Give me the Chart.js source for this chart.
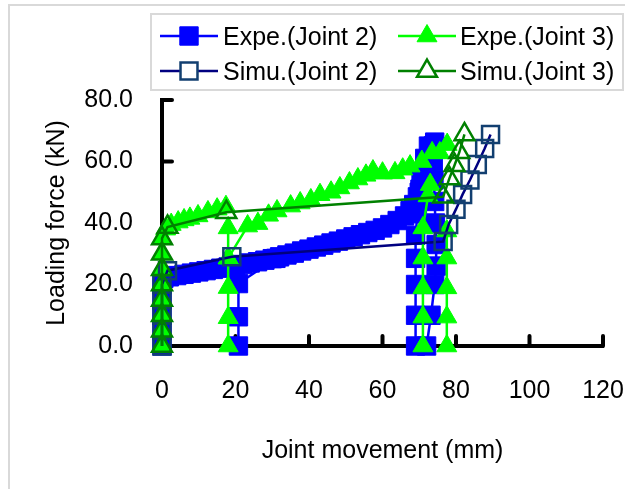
<!DOCTYPE html>
<html><head><meta charset="utf-8">
<script src="https://cdn.jsdelivr.net/npm/chart.js@4.4.0/dist/chart.umd.min.js"></script>
<style>
html,body{margin:0;padding:0;overflow:hidden;background:#fff;width:625px;height:489px;}
#frame{position:absolute;left:8px;top:4px;width:700px;height:600px;border-left:2px solid #d9d9d9;border-top:2px solid #d9d9d9;}
#wrap{position:absolute;left:0;top:0;width:625px;height:489px;}
#legend{position:absolute;left:150px;top:13px;width:474px;height:78px;border:2px solid #d9d9d9;box-sizing:border-box;background:#fff;}
.txt{position:absolute;font-family:'Liberation Sans',Arial,sans-serif;font-size:25px;line-height:30px;white-space:nowrap;color:#000;}
.sym{position:absolute;}
</style></head>
<body>
<div id="frame"></div>
<div id="wrap"><canvas id="c" width="625" height="489"></canvas></div>
<div id="legend"></div>
<script>
// ---- data (null separates line segments) ----
const xTicks = [0, 20, 40, 60, 80, 100, 120];
const yTicks = [0, 20, 40, 60, 80];

const expeJ2X = [0,0,0,0,0,0.5,2,4,6,8,10,12,14,16,18,20,22,24,26,28,30,32,34,36,38,40,42,44,46,48,50,52,54,56,58,60,62,64,66,67.5,68.5,69.5,70.2,70.8,71.3,71.8,72.3,72.8,73.3,73.8,74.2,
  null, 20.8,20.8,20.8,31,
  null, 69,69,69,69,69,69.5,70,70.5,71.5,72.5,
  null, 72,73.2,74.2,74.6,74.6,74.4,74.2,74,73.8,73.8];
const expeJ2Y = [0,5,10,15,20,22,22.5,22.9,23.3,23.7,24.1,24.5,24.9,25.3,25.7,26.1,26.5,27,27.4,27.9,28.4,29,29.6,30.2,30.9,31.5,32.2,32.8,33.5,34.1,34.8,35.5,36.2,36.9,37.6,38.4,39.5,40.8,42.3,44,46,48.5,51,53.5,56,58.2,60.2,62,63.5,65,66.3,
  null, 0,9.5,20.3,28.5,
  null, 0,10,20,28.5,36,43,50,56,61,65,
  null, 0,10,20,26,33,40,47,54,60,65];

const expeJ3X = [0,0,0,0,0,0,0,0,1,2.5,4.4,6,7.6,9.8,12.5,15,17.4,
  null, 18,18,18,18,18,
  null, 18,23.3,26.1,29,31.3,35,37.6,40.5,43,46,48.4,51,53.3,55.5,57.4,60,63.4,65.5,67.5,70.7,73.5,75.6,77.6,
  null, 71,71,71,71,71,72.4,73,
  null, 77.5,77.5,77.5,77.5,77.5];
const expeJ3Y = [0,5,10,15,20,25,30,35,38,39.5,40.3,41,41.5,42.3,43.6,44.5,45.3,
  null, 0,9.2,19,28.6,38.4,
  null, 28.6,39,39.8,42.5,43.9,45.5,46.5,47.5,49.2,50,51.4,53,54.3,55.5,56.9,56.2,56.3,57.5,58.5,60,62.8,62.8,65.5,
  null, 0,9.4,18.9,28.6,38.4,48.8,52.5,
  null, 0,9.4,18.9,28.6,37.4];

const simuJ2X = [0,0,0,0,0,1.5,19,76.5,78,80,81.8,83.8,85.8,87.8,89.4];
const simuJ2Y = [0,5,10,15,20,24.5,29,34,39.5,44.5,49.3,54,59,64.2,68.8];

const simuJ3X = [0,0,0,0,0,0,0,0,1.5,17.5,76.5,78.2,79.6,80.9,82.3];
const simuJ3Y = [0,5,10,15,20,25,30,35,38.7,43.5,48.5,54.5,58.8,63,68.8];

const seriesNames = ['Expe.(Joint 2)', 'Expe.(Joint 3)', 'Simu.(Joint 2)', 'Simu.(Joint 3)'];

function pts(xs, ys) {
  const out = [];
  let lastX = 0;
  for (let i = 0; i < xs.length; i++) {
    if (xs[i] === null || ys[i] === null) { out.push({x: lastX, y: null}); }
    else { out.push({x: xs[i], y: ys[i]}); lastX = xs[i]; }
  }
  return out;
}

const FONT = "'Liberation Sans', Arial, sans-serif";
Chart.defaults.font.family = FONT;
Chart.defaults.font.size = 25;
Chart.defaults.color = '#000';

const styles = {
  expeJ2: {line: '#0000FF', border: '#0000FF', fill: '#0000FF', shape: 'rect', r: 13, lw: 2.5, bw: 1},
  expeJ3: {line: '#00FF00', border: '#00FF00', fill: '#00FF00', shape: 'triangle', r: 11.5, lw: 2.5, bw: 1},
  simuJ2: {line: '#000080', border: '#123F70', fill: 'rgba(255,255,255,0)', shape: 'rect', r: 12, lw: 2.5, bw: 2.5},
  simuJ3: {line: '#008000', border: '#008000', fill: 'rgba(255,255,255,0)', shape: 'triangle', r: 11.5, lw: 2.5, bw: 2.5}
};

function ds(label, data, s) {
  return {
    label, data,
    showLine: true, fill: false, tension: 0, spanGaps: false, clip: false,
    borderColor: s.line, borderWidth: s.lw, backgroundColor: s.fill,
    pointStyle: s.shape, pointRadius: s.r, pointHoverRadius: s.r,
    pointBackgroundColor: s.fill, pointBorderColor: s.border, pointBorderWidth: s.bw
  };
}

const innerTicks = {
  id: 'innerTicks',
  beforeDatasetsDraw(chart) {
    const {ctx, scales: {x, y}} = chart;
    ctx.save();
    ctx.strokeStyle = '#000';
    ctx.lineWidth = 4;
    ctx.lineCap = 'round';
    x.ticks.forEach(t => {
      if (t.value === 0) return;
      const px = x.getPixelForValue(t.value);
      ctx.beginPath(); ctx.moveTo(px, y.bottom); ctx.lineTo(px, y.bottom - 10); ctx.stroke();
    });
    y.ticks.forEach(t => {
      if (t.value === 0) return;
      const py = y.getPixelForValue(t.value);
      ctx.beginPath(); ctx.moveTo(x.left, py); ctx.lineTo(x.left + 10, py); ctx.stroke();
    });
    ctx.restore();
  }
};

const chart = new Chart(document.getElementById('c'), {
  type: 'line',
  data: {
    datasets: [
      ds(seriesNames[3], pts(simuJ3X, simuJ3Y), styles.simuJ3),
      ds(seriesNames[2], pts(simuJ2X, simuJ2Y), styles.simuJ2),
      ds(seriesNames[1], pts(expeJ3X, expeJ3Y), styles.expeJ3),
      ds(seriesNames[0], pts(expeJ2X, expeJ2Y), styles.expeJ2)
    ]
  },
  options: {
    responsive: false, animation: false, events: [],
    layout: {padding: {top: 100, right: 22, bottom: 0, left: 0}},
    plugins: {legend: {display: false}, tooltip: {enabled: false}},
    scales: {
      x: {
        type: 'linear', min: xTicks[0], max: xTicks[xTicks.length - 1],
        afterBuildTicks(s) { s.ticks = xTicks.map(v => ({value: v})); },
        ticks: {padding: 0, color: '#000', font: {size: 25}, maxRotation: 0, callback: v => String(v)},
        grid: {display: false, drawTicks: true, tickLength: 30},
        border: {display: true, color: '#000', width: 4},
        title: {display: true, text: 'Joint movement (mm)', color: '#000', font: {size: 25}, padding: {top: 0, bottom: 23}},
        afterFit(s) { s.height = 143; }
      },
      y: {
        type: 'linear', min: yTicks[0], max: yTicks[yTicks.length - 1],
        afterBuildTicks(s) { s.ticks = yTicks.map(v => ({value: v})); },
        ticks: {padding: 0, color: '#000', font: {size: 25}, callback: v => Number(v).toFixed(1)},
        grid: {display: false, drawTicks: true, tickLength: 29},
        border: {display: true, color: '#000', width: 4},
        title: {display: true, text: 'Loading force (kN)', color: '#000', font: {size: 25}, padding: {top: 42, bottom: 0}},
        afterFit(s) { s.width = 162; }
      }
    }
  },
  plugins: [innerTicks]
});

// ---- legend (HTML text + library-drawn point symbols) ----
const legendItems = [
  {name: seriesNames[0], s: styles.expeJ2, sx: 188.5, sy: 35.5, tx: 223, ty: 21},
  {name: seriesNames[1], s: styles.expeJ3, sx: 427, sy: 35.5, tx: 460, ty: 21},
  {name: seriesNames[2], s: styles.simuJ2, sx: 188.5, sy: 70.7, tx: 223, ty: 55.5},
  {name: seriesNames[3], s: styles.simuJ3, sx: 427, sy: 70.7, tx: 460, ty: 55.5}
];
legendItems.forEach(it => {
  const cv = document.createElement('canvas');
  cv.width = 70; cv.height = 36; cv.className = 'sym';
  cv.style.left = (it.sx - 35) + 'px';
  cv.style.top = (it.sy - 18) + 'px';
  document.body.appendChild(cv);
  const ctx = cv.getContext('2d');
  ctx.strokeStyle = it.s.line; ctx.lineWidth = it.s.lw;
  ctx.beginPath(); ctx.moveTo(6, 18); ctx.lineTo(64, 18); ctx.stroke();
  ctx.fillStyle = it.s.bw > 1 ? '#fff' : it.s.fill;
  ctx.strokeStyle = it.s.border; ctx.lineWidth = it.s.bw;
  const opts = {pointStyle: it.s.shape, radius: it.s.r, borderWidth: it.s.bw, rotation: 0};
  if (Chart.helpers && Chart.helpers.drawPoint) {
    Chart.helpers.drawPoint(ctx, opts, 35, 18);
  } else {
    ctx.beginPath();
    if (it.s.shape === 'rect') { const h = it.s.r * Math.SQRT1_2; ctx.rect(35 - h, 18 - h, 2 * h, 2 * h); }
    else { const r = it.s.r; ctx.moveTo(35, 18 - r); ctx.lineTo(35 + r * 0.866, 18 + r / 2); ctx.lineTo(35 - r * 0.866, 18 + r / 2); ctx.closePath(); }
    ctx.fill(); ctx.stroke();
  }
  const t = document.createElement('div');
  t.className = 'txt'; t.textContent = it.name;
  t.style.left = it.tx + 'px'; t.style.top = it.ty + 'px';
  document.body.appendChild(t);
});
</script>
</body></html>
